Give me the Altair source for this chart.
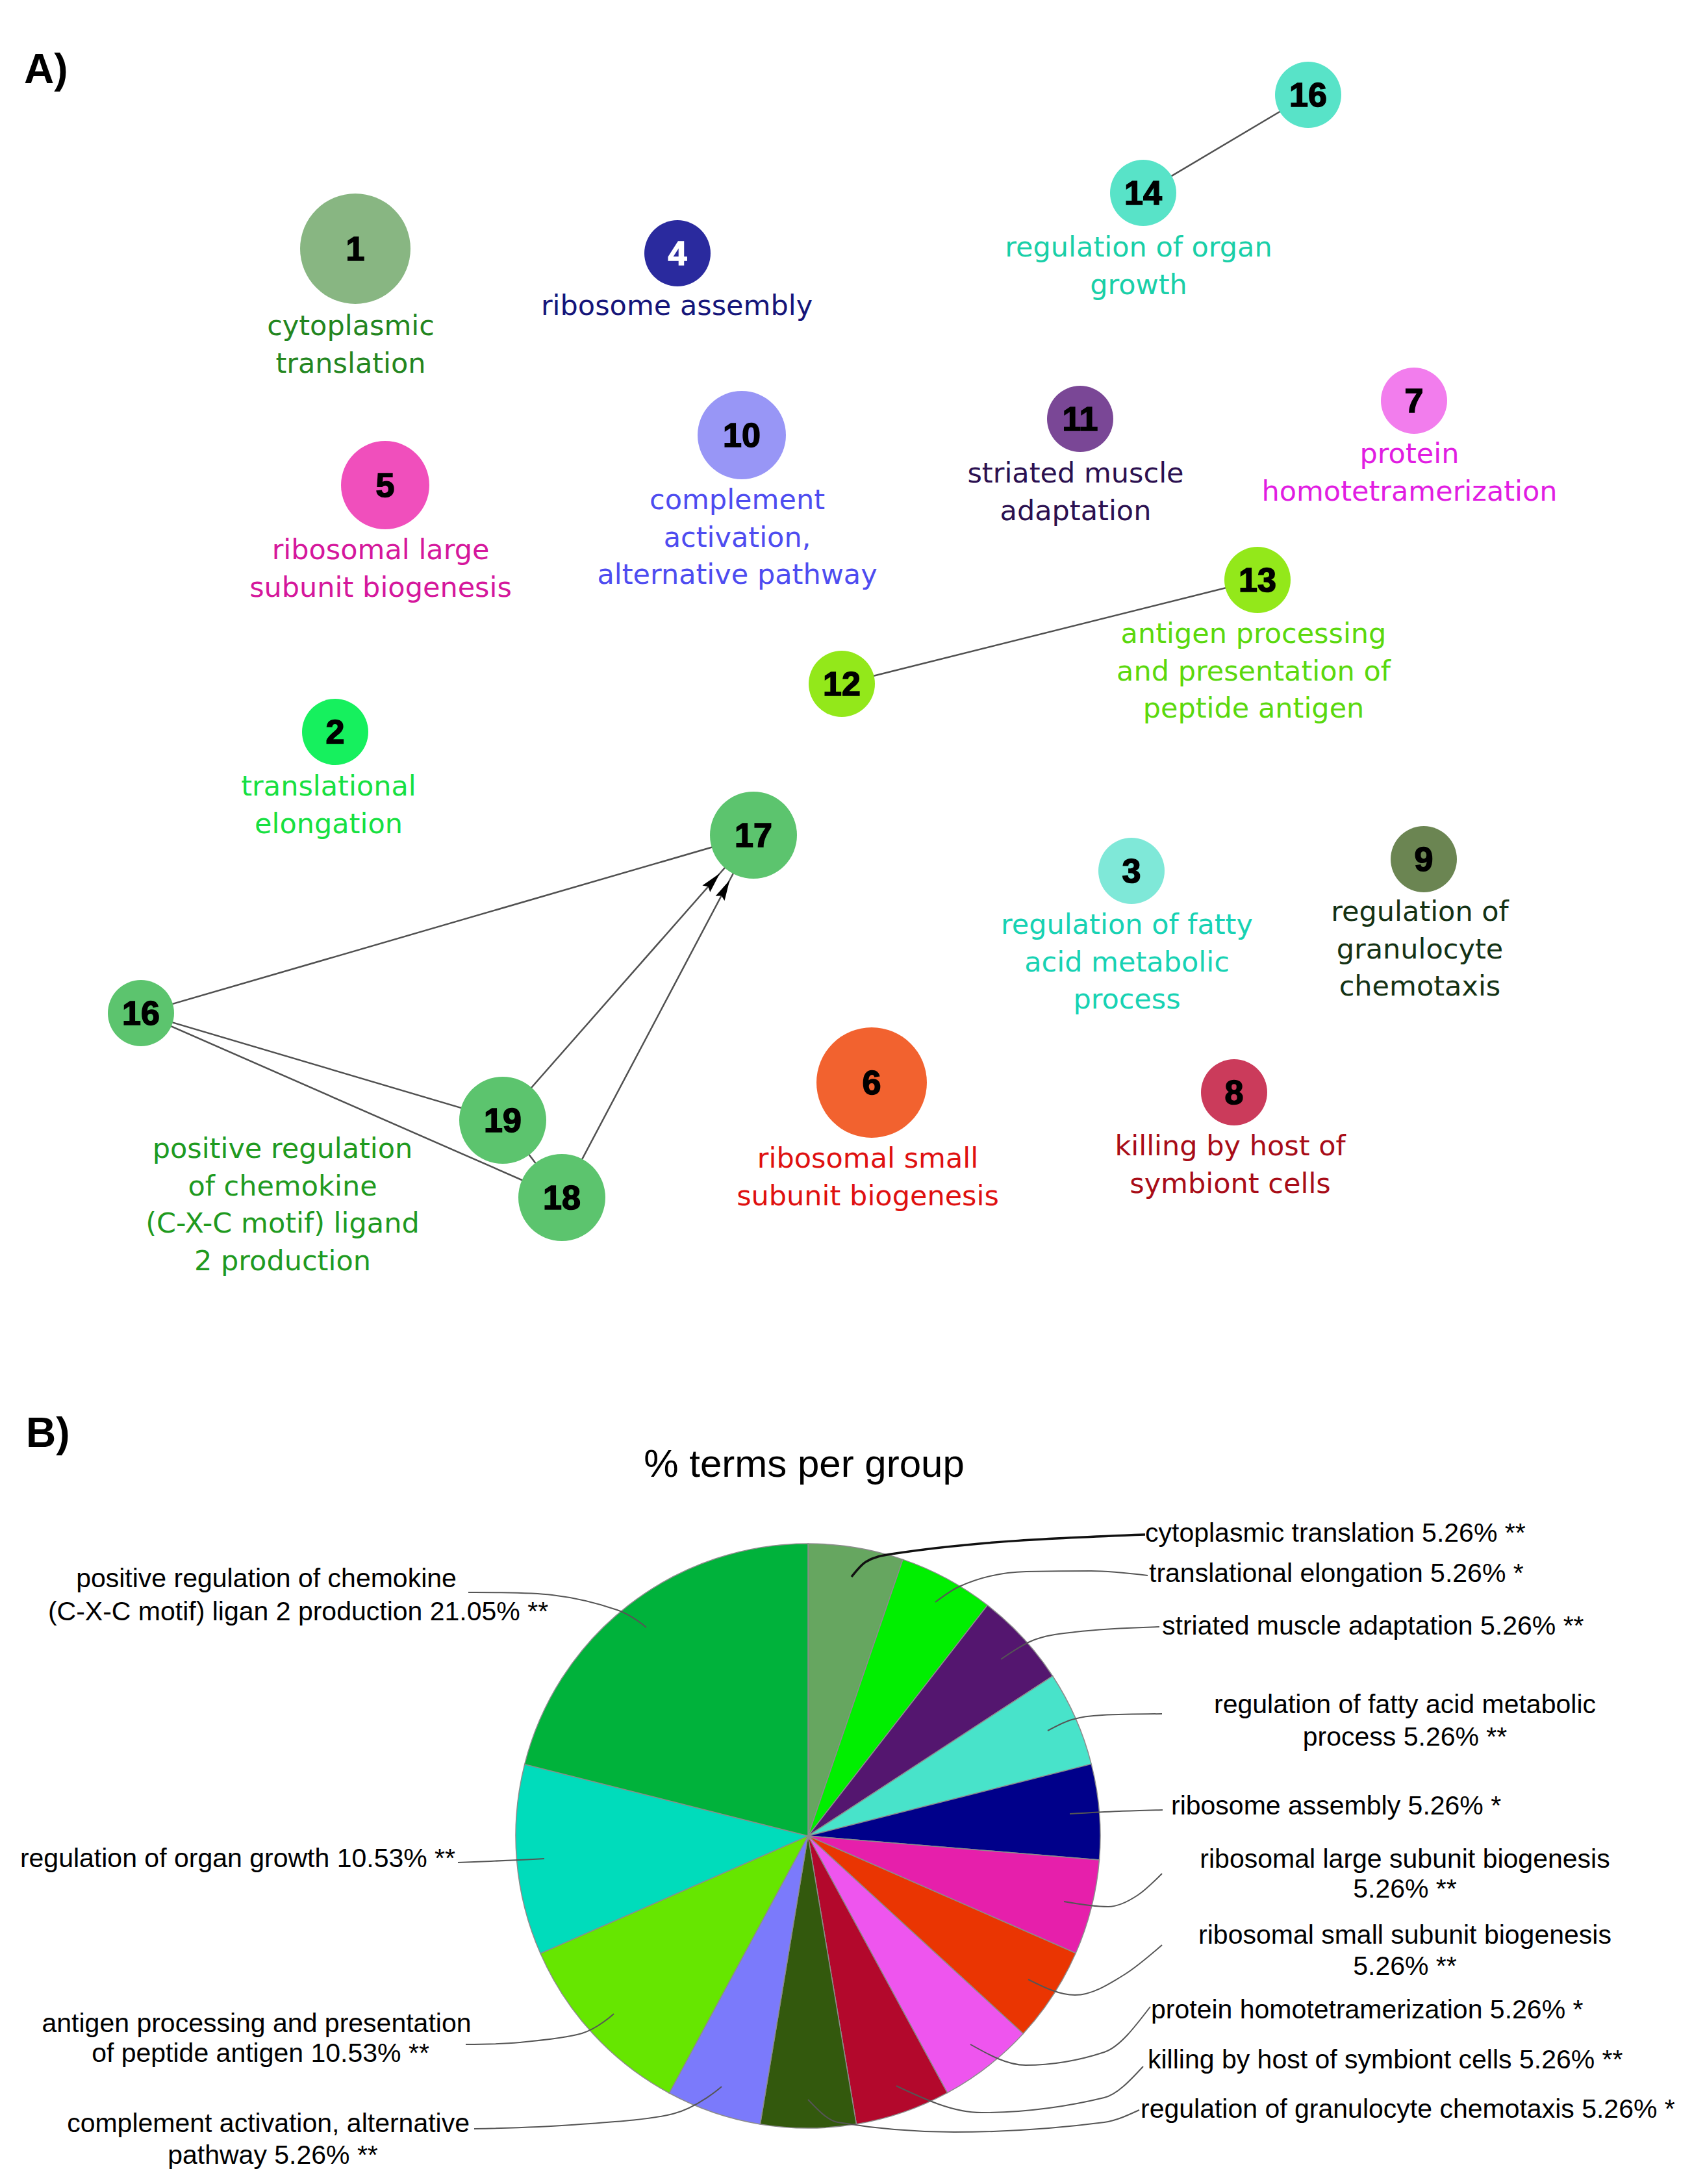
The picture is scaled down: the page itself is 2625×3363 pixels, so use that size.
import math
import altair as alt
import pandas as pd

# ---------------- canvas: data coordinates == page pixels ----------------
W, H = 2605, 3345
OX, OY = 8, 8
XS = alt.Scale(domain=[OX, OX + W], nice=False, zero=False)
YS = alt.Scale(domain=[OY, OY + H], nice=False, zero=False, reverse=True)

# ---------------- Panel A: network ----------------
node_id = ["1", "4", "16a", "14", "5", "10", "11", "7", "13", "12", "2",
           "17", "16b", "19", "18", "3", "9", "6", "8"]
node_num = ["1", "4", "16", "14", "5", "10", "11", "7", "13", "12", "2",
            "17", "16", "19", "18", "3", "9", "6", "8"]
node_fill = ["#88b682", "#2a2a9e", "#58e3c8", "#58e3c8", "#f04fbc", "#9896f6",
             "#7a4796", "#f27ded", "#93e81a", "#93e81a", "#16f05e",
             "#5cc46e", "#5cc46e", "#5cc46e", "#5cc46e", "#7fe8d8", "#6b8552",
             "#f2622f", "#cb3b5b"]
node_numcolor = ["#000000", "#ffffff"] + ["#000000"] * 17
# layout (node positions and radii)
node_x = [547, 1043, 2014, 1760, 593, 1142, 1663, 2177, 1936, 1296, 516,
          1160, 217, 774, 865, 1742, 2192, 1342, 1900]
node_y = [383, 390, 146, 297, 747, 670, 645, 617, 893, 1053, 1127,
          1286, 1560, 1725, 1844, 1341, 1323, 1667, 1682]
node_r = [85, 51, 51, 51, 68, 68, 51, 51, 51, 51, 51,
          67, 51, 67, 67, 51, 51, 85, 51]

edge_src = ["16a", "12", "16b", "16b", "16b", "19", "19", "18"]
edge_tgt = ["14", "13", "17", "19", "18", "18", "17", "17"]
edge_arrow = [False, False, False, False, False, False, True, True]

group_text = ["cytoplasmic|translation", "ribosome assembly",
              "regulation of organ|growth", "ribosomal large|subunit biogenesis",
              "complement|activation,|alternative pathway",
              "striated muscle|adaptation", "protein|homotetramerization",
              "antigen processing|and presentation of|peptide antigen",
              "translational|elongation",
              "regulation of fatty|acid metabolic|process",
              "regulation of|granulocyte|chemotaxis",
              "positive regulation|of chemokine|(C-X-C motif) ligand|2 production",
              "ribosomal small|subunit biogenesis",
              "killing by host of|symbiont cells"]
group_color = ["#23861f", "#15157a", "#19cfa8", "#d5179c", "#4e4cf0", "#2b1050",
               "#e11de2", "#5ad80d", "#16e040", "#17d2b3", "#143214", "#1f9a1f",
               "#df1010", "#a80c17"]
group_x = [540, 1042, 1753, 586, 1135, 1656, 2170, 1930, 506, 1735, 2186, 435, 1336, 1894]
group_y = [503, 472, 382, 848, 771, 730, 700, 977, 1212, 1425, 1405, 1770, 1785, 1766]
LINE_H = 57.5

# ---------------- Panel B: pie ----------------
pie_group = ["cytoplasmic translation", "translational elongation",
             "striated muscle adaptation",
             "regulation of fatty acid metabolic process", "ribosome assembly",
             "ribosomal large subunit biogenesis",
             "ribosomal small subunit biogenesis", "protein homotetramerization",
             "killing by host of symbiont cells",
             "regulation of granulocyte chemotaxis",
             "complement activation, alternative pathway",
             "antigen processing and presentation of peptide antigen",
             "regulation of organ growth",
             "positive regulation of chemokine (C-X-C motif) ligan 2 production"]
pie_pct = [5.26, 5.26, 5.26, 5.26, 5.26, 5.26, 5.26, 5.26, 5.26, 5.26, 5.26,
           10.53, 10.53, 21.05]
pie_color = ["#66a660", "#00ef00", "#54166f", "#48e3ca", "#00008a", "#e61fab",
             "#ea3502", "#ee55ee", "#b3082c", "#33590d", "#7b7afb", "#66e600",
             "#00dcbb", "#00b23b"]
PIE_CX, PIE_CY, PIE_R = 1244, 2827, 450

pie_label = ["cytoplasmic translation 5.26% **", "translational elongation 5.26% *",
             "striated muscle adaptation 5.26% **",
             "regulation of fatty acid metabolic", "process 5.26% **",
             "ribosome assembly 5.26% *",
             "ribosomal large subunit biogenesis", "5.26% **",
             "ribosomal small subunit biogenesis", "5.26% **",
             "protein homotetramerization 5.26% *",
             "killing by host of symbiont cells 5.26% **",
             "regulation of granulocyte chemotaxis 5.26% *",
             "positive regulation of chemokine",
             "(C-X-C motif) ligan 2 production 21.05% **",
             "regulation of organ growth 10.53% **",
             "antigen processing and presentation", "of peptide antigen 10.53% **",
             "complement activation, alternative", "pathway 5.26% **"]
pie_label_x = [1763, 1769, 1789, 2163, 2163, 1803, 2163, 2163, 2163, 2163,
               1772, 1767, 1756, 410, 459, 701, 395, 401, 723, 420]
pie_label_y = [2362, 2424, 2505, 2626, 2676, 2782, 2864, 2910, 2981, 3029,
               3096, 3173, 3249, 2432, 2483, 2863, 3117, 3163, 3271, 3320]
pie_label_align = ["left", "left", "left", "center", "center", "left", "center",
                   "center", "center", "center", "left", "left", "left",
                   "center", "center", "right", "center", "center", "right", "center"]

# leader lines (annotation paths)
leader_pts = [
    [(1311, 2428), (1333, 2405), (1372, 2393), (1763, 2363)],
    [(1440, 2467), (1477, 2443), (1580, 2420), (1680, 2419), (1767, 2426)],
    [(1541, 2555), (1590, 2526), (1655, 2513), (1785, 2505)],
    [(1613, 2665), (1650, 2648), (1697, 2641), (1789, 2639)],
    [(1647, 2793), (1723, 2789), (1790, 2787)],
    [(1638, 2928), (1706, 2936), (1752, 2918), (1789, 2885)],
    [(1583, 3048), (1655, 3072), (1732, 3040), (1789, 2995)],
    [(1494, 3148), (1579, 3180), (1700, 3160), (1771, 3090)],
    [(1380, 3212), (1511, 3253), (1700, 3230), (1760, 3182)],
    [(1244, 3233), (1290, 3268), (1469, 3283), (1700, 3268), (1754, 3249)],
    [(995, 2506), (950, 2479), (850, 2456), (721, 2452)],
    [(838, 2862), (800, 2864), (705, 2868)],
    [(945, 3101), (896, 3131), (800, 3145), (717, 3148)],
    [(1111, 3213), (1036, 3255), (880, 3272), (730, 3278)],
]
leader_kind = ["dark"] + ["right"] * 9 + ["left"] * 4

# ---------------- build tables ----------------
nodes = pd.DataFrame({
    "id": node_id, "num": node_num, "x": node_x, "y": node_y,
    "sz": [(2 * r) ** 2 for r in node_r], "fill": node_fill, "tc": node_numcolor,
})
pos = {i: (x, y, r) for i, x, y, r in zip(node_id, node_x, node_y, node_r)}

edges = pd.DataFrame({
    "x": [pos[s][0] for s in edge_src], "y": [pos[s][1] for s in edge_src],
    "x2": [pos[t][0] for t in edge_tgt], "y2": [pos[t][1] for t in edge_tgt],
})

arrows = []
for s, t, a in zip(edge_src, edge_tgt, edge_arrow):
    if not a:
        continue
    sx, sy, _ = pos[s]
    tx, ty, tr = pos[t]
    dx, dy = tx - sx, ty - sy
    L = math.hypot(dx, dy)
    ux, uy = dx / L, dy / L
    d = tr + 30
    ang = math.degrees(math.atan2(dx, -dy)) % 360
    arrows.append({"x": tx - ux * d, "y": ty - uy * d, "ang": ang})
arrows = pd.DataFrame(arrows)

lab_rows = []
for txt, c, x, y in zip(group_text, group_color, group_x, group_y):
    for k, line in enumerate(txt.split("|")):
        lab_rows.append({"t": line, "c": c, "x": x, "y": y + k * LINE_H})
labels = pd.DataFrame(lab_rows)

pie_df = pd.DataFrame({"g": pie_group, "pct": pie_pct, "col": pie_color,
                       "ord": list(range(len(pie_group)))})

plab = pd.DataFrame({"t": pie_label, "x": pie_label_x, "y": pie_label_y,
                     "al": pie_label_align})

lead_rows = []
for k, (pts, kind) in enumerate(zip(leader_pts, leader_kind)):
    for j, (x, y) in enumerate(pts):
        lead_rows.append({"lid": k, "seq": j, "x": x, "y": y, "kind": kind})
leads = pd.DataFrame(lead_rows)

heads = pd.DataFrame({"t": ["A)", "B)"], "x": [37, 40], "y": [128, 2228]})
title = pd.DataFrame({"t": ["% terms per group"], "x": [1238], "y": [2274]})

X = lambda f="x": alt.X(f"{f}:Q", scale=XS, axis=None)
Y = lambda f="y": alt.Y(f"{f}:Q", scale=YS, axis=None)

edge_layer = alt.Chart(edges).mark_rule(color="#505050", strokeWidth=2.5).encode(
    x=X(), y=Y(), x2="x2:Q", y2="y2:Q")

arrow_layer = alt.Chart(arrows).mark_point(
    shape="M0,-1L0.42,0.7L0,0.45L-0.42,0.7Z", filled=True, color="#000000",
    opacity=1, size=1400).encode(
    x=X(), y=Y(), angle=alt.Angle("ang:Q", scale=None))

node_layer = alt.Chart(nodes).mark_circle(opacity=1).encode(
    x=X(), y=Y(), size=alt.Size("sz:Q", scale=None, legend=None),
    color=alt.Color("fill:N", scale=None))

num_layer = alt.Chart(nodes).mark_text(
    font="Liberation Sans", fontWeight="bold", fontSize=52, strokeWidth=1.6,
    align="center", baseline="middle", dy=2).encode(
    x=X(), y=Y(), text="num:N", color=alt.Color("tc:N", scale=None),
    stroke=alt.Stroke("tc:N", scale=None))

label_layer = alt.Chart(labels).mark_text(
    font="DejaVu Sans", fontSize=43, align="center", baseline="middle").encode(
    x=X(), y=Y(), text="t:N", color=alt.Color("c:N", scale=None))

pie_layer = alt.Chart(pie_df).mark_arc(
    radius=PIE_R, stroke="#8c8c8c", strokeWidth=1.5).encode(
    theta=alt.Theta("pct:Q", stack=True),
    order=alt.Order("ord:Q"),
    color=alt.Color("col:N", scale=None),
    x=alt.datum(PIE_CX, scale=XS, axis=None),
    y=alt.datum(PIE_CY, scale=YS, axis=None))

lead_right = alt.Chart(leads[leads["kind"] == "right"]).mark_line(
    color="#555555", strokeWidth=2, interpolate="monotone").encode(
    x=X(), y=Y(), detail="lid:N", order="seq:Q")
lead_left = alt.Chart(leads[leads["kind"] == "left"]).mark_line(
    color="#555555", strokeWidth=2, interpolate="cardinal").encode(
    x=X(), y=Y(), detail="lid:N", order="seq:Q")
lead_dark = alt.Chart(leads[leads["kind"] == "dark"]).mark_line(
    color="#111111", strokeWidth=3.5, interpolate="monotone").encode(
    x=X(), y=Y(), detail="lid:N", order="seq:Q")

plab_layers = []
for al in ["left", "center", "right"]:
    plab_layers.append(alt.Chart(plab[plab["al"] == al]).mark_text(
        font="Liberation Sans", fontSize=41, align=al, baseline="middle",
        color="#000000").encode(x=X(), y=Y(), text="t:N"))

head_layer = alt.Chart(heads).mark_text(
    font="Liberation Sans", fontWeight="bold", fontSize=64, align="left",
    baseline="alphabetic", color="#000000").encode(x=X(), y=Y(), text="t:N")

title_layer = alt.Chart(title).mark_text(
    font="Liberation Sans", fontSize=60, align="center", baseline="alphabetic",
    color="#000000").encode(x=X(), y=Y(), text="t:N")

chart = alt.layer(
    edge_layer, arrow_layer, node_layer, num_layer, label_layer,
    pie_layer, lead_right, lead_left, lead_dark, *plab_layers, head_layer,
    title_layer
).properties(width=W, height=H, padding=0, background="#ffffff"
).configure_view(stroke=None)

chart.save("out.html", embed_options={"renderer": "svg", "actions": False})
